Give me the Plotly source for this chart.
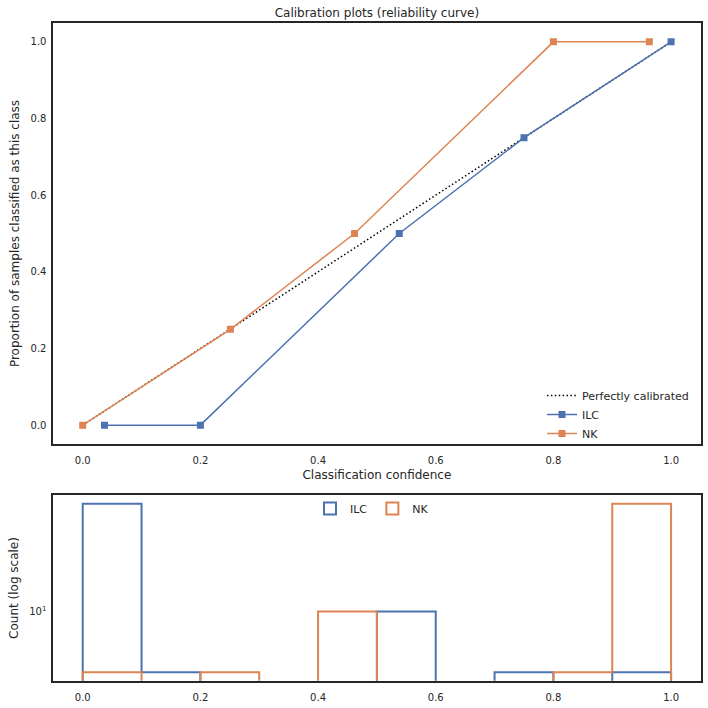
import plotly.graph_objects as go

# ---------------- data ----------------
perfect_x = [0.0, 1.0]
perfect_y = [0.0, 1.0]

ilc_conf = [0.037, 0.200, 0.538, 0.750, 1.000]
ilc_frac = [0.0, 0.0, 0.5, 0.75, 1.0]

nk_conf = [0.0, 0.251, 0.462, 0.800, 0.963]
nk_frac = [0.0, 0.25, 0.5, 1.0, 1.0]

bin_edges = [0.0, 0.1, 0.2, 0.3, 0.4, 0.5, 0.6, 0.7, 0.8, 0.9, 1.0]
ilc_counts = [51, 4, 0, 0, 0, 10, 0, 4, 0, 4]
nk_counts = [4, 0, 4, 0, 10, 0, 0, 0, 4, 51]

x_ticks = [0.0, 0.2, 0.4, 0.6, 0.8, 1.0]
x_ticklabels = ["0.0", "0.2", "0.4", "0.6", "0.8", "1.0"]
y_ticks = [0.0, 0.2, 0.4, 0.6, 0.8, 1.0]
y_ticklabels = ["0.0", "0.2", "0.4", "0.6", "0.8", "1.0"]
log_ticks = [10]
log_ticklabels = ["10<sup>1</sup>"]

BLUE = "#4C72B0"
ORANGE = "#DD8452"
DARK = "#262626"
FONT = "DejaVu Sans"


def step_outline(edges, counts, floor=1.0):
    xs = [edges[0]]
    ys = [floor]
    for i, c in enumerate(counts):
        v = c if c > 0 else floor
        xs += [edges[i], edges[i + 1]]
        ys += [v, v]
    xs.append(edges[-1])
    ys.append(floor)
    return xs, ys


fig = go.Figure()

# ---- top: calibration curves ----
fig.add_trace(go.Scatter(
    x=perfect_x, y=perfect_y, mode="lines", name="Perfectly calibrated",
    line=dict(color="black", width=1.5, dash="1.5px,2.4px"),
    xaxis="x", yaxis="y", legend="legend"))
fig.add_trace(go.Scatter(
    x=ilc_conf, y=ilc_frac, mode="lines+markers", name="ILC",
    line=dict(color=BLUE, width=1.5),
    marker=dict(symbol="square", size=7, color=BLUE),
    xaxis="x", yaxis="y", legend="legend"))
fig.add_trace(go.Scatter(
    x=nk_conf, y=nk_frac, mode="lines+markers", name="NK",
    line=dict(color=ORANGE, width=1.5),
    marker=dict(symbol="square", size=7, color=ORANGE),
    xaxis="x", yaxis="y", legend="legend"))

# ---- bottom: step histograms ----
for counts, color, name in [(ilc_counts, BLUE, "ILC"), (nk_counts, ORANGE, "NK")]:
    xs, ys = step_outline(bin_edges, counts)
    fig.add_trace(go.Scatter(
        x=xs, y=ys, mode="lines", line=dict(color=color, width=2),
        showlegend=False, xaxis="x2", yaxis="y2", hoverinfo="skip"))
    fig.add_trace(go.Bar(
        x=[None], y=[None], name=name,
        marker=dict(color="rgba(0,0,0,0)", line=dict(color=color, width=2)),
        xaxis="x2", yaxis="y2", legend="legend2"))

W = H = 708
px_l, px_r = 53.3, 700.5
top_t, top_b = 22.7, 444.3
bot_t, bot_b = 495.3, 680.7

axis_common = dict(
    showline=True, mirror=True, linecolor=DARK, linewidth=1.7,
    ticks="", showgrid=False, zeroline=False,
    tickfont=dict(family=FONT, size=10, color=DARK),
)

fig.update_layout(
    width=W, height=H,
    margin=dict(l=0, r=0, t=0, b=0),
    paper_bgcolor="white", plot_bgcolor="white",
    font=dict(family=FONT, color=DARK),
    barmode="overlay",
    title=dict(text="Calibration plots (reliability curve)",
               font=dict(family=FONT, size=12, color=DARK),
               x=(px_l + px_r) / 2 / W, xanchor="center",
               y=1 - 13 / H, yanchor="middle"),
    xaxis=dict(domain=[px_l / W, px_r / W], range=[-0.05, 1.05], anchor="y",
               tickvals=x_ticks, ticktext=x_ticklabels, ticklabelstandoff=6,
               title=dict(text="Classification confidence",
                          font=dict(family=FONT, size=12, color=DARK), standoff=5),
               **axis_common),
    yaxis=dict(domain=[1 - top_b / H, 1 - top_t / H], range=[-0.05, 1.05], anchor="x",
               tickvals=y_ticks, ticktext=y_ticklabels, ticklabelstandoff=3,
               title=dict(text="Proportion of samples classified as this class",
                          font=dict(family=FONT, size=12, color=DARK), standoff=8),
               **axis_common),
    xaxis2=dict(domain=[px_l / W, px_r / W], range=[-0.05, 1.05], anchor="y2",
                tickvals=x_ticks, ticktext=x_ticklabels, ticklabelstandoff=6,
                **axis_common),
    yaxis2=dict(domain=[1 - bot_b / H, 1 - bot_t / H], type="log",
                range=[0.5468, 1.7629], anchor="x2",
                tickvals=log_ticks, ticktext=log_ticklabels, ticklabelstandoff=3,
                title=dict(text="Count (log scale)",
                           font=dict(family=FONT, size=12, color=DARK), standoff=8),
                **axis_common),
    legend=dict(x=694 / W, xanchor="right", y=1 - 381 / H, yanchor="top",
                bgcolor="rgba(0,0,0,0)", font=dict(family=FONT, size=11, color=DARK),
                itemwidth=30),
    legend2=dict(orientation="h", x=372 / W, xanchor="center", y=1 - 494 / H,
                 yanchor="top", bgcolor="rgba(0,0,0,0)",
                 font=dict(family=FONT, size=11, color=DARK)),
)

fig.write_html("out.html")
